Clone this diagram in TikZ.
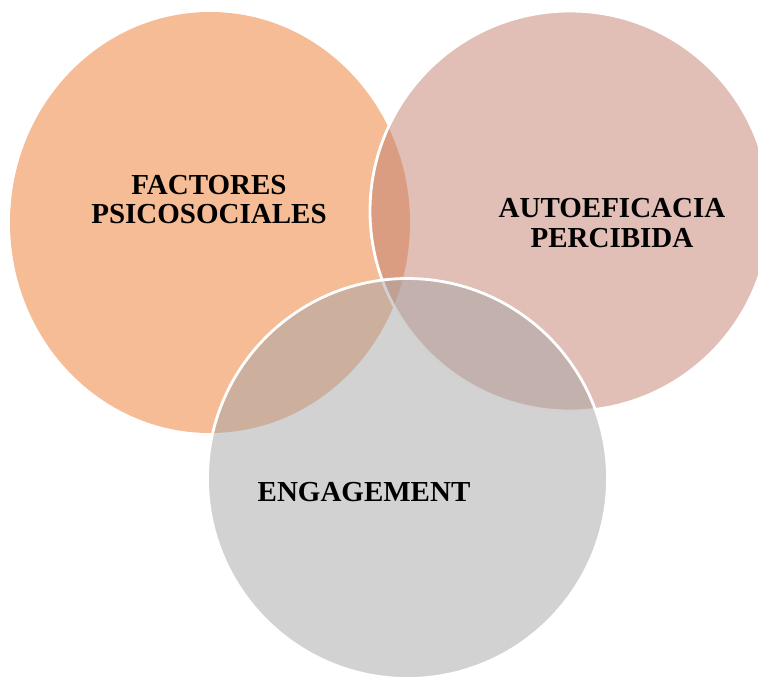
\documentclass[tikz,border=0pt]{standalone}
\usepackage{fontspec}
\setmainfont{Liberation Serif}
\usetikzlibrary{shapes.geometric}
\definecolor{orangefill}{RGB}{245,188,150}
\definecolor{pinkfill}{RGB}{195,127,111}
\definecolor{grayfill}{RGB}{165,165,165}
\tikzset{
  blob/.style={inner sep=0pt, outer sep=0pt},
  rim/.style={draw=white, line width=2.8pt},
  label/.style={font=\bfseries\fontsize{29}{29.5}\selectfont, align=center, inner sep=0pt, text=black}
}
\begin{document}
\begin{tikzpicture}[x=1pt,y=-1pt]
\useasboundingbox (0,0) rectangle (758,678);
\node[blob, ellipse, minimum width=400pt, minimum height=421pt, fill=orangefill] (c1) at (210,222.5) {};
\node[blob, circle, minimum size=400pt, fill=pinkfill, fill opacity=0.5, rim] (c2) at (570,211) {};
\node[blob, circle, minimum size=400pt, fill=grayfill, fill opacity=0.5, rim] (c3) at (407.5,478.5) {};
\node[label] (t1) at (209,199.5) {FACTORES\\PSICOSOCIALES};
\node[label] (t2) at (612,223) {AUTOEFICACIA\\PERCIBIDA};
\node[label] (t3) at (364,492.5) {ENGAGEMENT};
\end{tikzpicture}
\end{document}
